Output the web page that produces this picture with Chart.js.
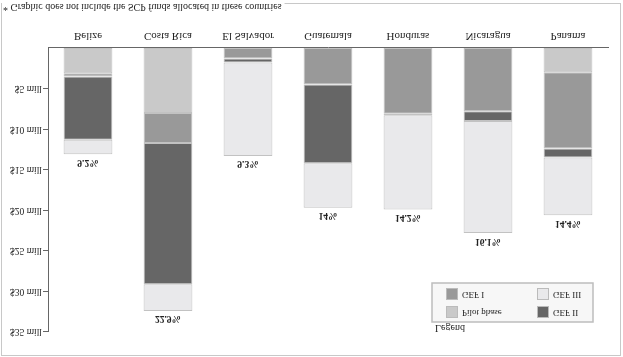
<!DOCTYPE html>
<html>
<head>
<meta charset="utf-8">
<script src="https://cdn.jsdelivr.net/npm/chart.js@4"></script>
<style>
  html, body { margin: 0; padding: 0; background: #fff; }
  #wrap { width: 623px; height: 357px; transform: scaleY(-1); transform-origin: 50% 50%; }
  canvas { display: block; }
</style>
</head>
<body>
<div id="wrap"><canvas id="c" width="623" height="357"></canvas></div>
<script>
// ---- data (US$ millions) ----
const categories = ['Belize', 'Costa Rica', 'El Salvador', 'Guatemala', 'Honduras', 'Nicaragua', 'Panama'];
const pilotPhase = [3.1, 8.0, 0, 0, 0, 0, 3.0];
const gef1       = [0.4, 3.7, 1.3, 4.5, 8.1, 7.8, 9.4];
const gef2       = [7.8, 17.4, 0.5, 9.7, 0.2, 1.2, 1.1];
const gef3       = [1.8, 3.3, 11.5, 5.5, 11.6, 13.8, 7.1];
const sharePct   = [9.2, 22.9, 9.3, 14, 14.2, 16.1, 14.4];
const yTickValues = [5, 10, 15, 20, 25, 30, 35];
const footnote = '* Graphic does not include the SCP funds allocated in these countries';

const SERIF = '"Liberation Serif", "Times New Roman", serif';
const TEXT = '#222';

const seriesDefs = [
  { label: 'Pilot phase', data: pilotPhase, color: '#c9c9c9' },
  { label: 'GEF I',       data: gef1,       color: '#999999' },
  { label: 'GEF II',      data: gef2,       color: '#666666' },
  { label: 'GEF III',     data: gef3,       color: '#e9e9eb' }
];

const datasets = seriesDefs.map(s => ({
  label: s.label,
  data: s.data,
  backgroundColor: s.color,
  borderColor: '#c2c2c2',
  borderWidth: 1,
  borderSkipped: false,
  barPercentage: 0.61,
  categoryPercentage: 1.0
}));

const decorPlugin = {
  id: 'decor',
  beforeDraw(chart) {
    const ctx = chart.ctx;
    ctx.save();
    ctx.fillStyle = '#fff';
    ctx.fillRect(0, 0, chart.width, chart.height);
    ctx.strokeStyle = '#c8c8c8';
    ctx.lineWidth = 1;
    ctx.strokeRect(1.5, 1.5, 619, 352);
    ctx.restore();
  },
  afterDraw(chart) {
    const ctx = chart.ctx;
    const xs = chart.scales.x, ys = chart.scales.y;
    ctx.save();
    // percentage labels above each stack
    ctx.font = 'bold 9.5px ' + SERIF;
    ctx.fillStyle = TEXT;
    ctx.textAlign = 'center';
    ctx.textBaseline = 'middle';
    categories.forEach((c, i) => {
      let total = 0;
      seriesDefs.forEach(s => { total += s.data[i] || 0; });
      const x = xs.getPixelForValue(i);
      const y = ys.getPixelForValue(total) - 8;
      ctx.fillText(sharePct[i] + '%', x, y);
    });

    // legend
    const bx = 432, by = 35, bw = 161, bh = 39;
    ctx.fillStyle = '#f7f7f7';
    ctx.fillRect(bx, by, bw, bh);
    ctx.strokeStyle = '#bdbdbd';
    ctx.lineWidth = 1.5;
    ctx.strokeRect(bx, by, bw, bh);
    ctx.font = '10px ' + SERIF;
    ctx.fillStyle = TEXT;
    ctx.textAlign = 'left';
    ctx.textBaseline = 'middle';
    ctx.fillText('Legend', 435, 29);
    const slots = {
      'Pilot phase': [446, 45],
      'GEF II':      [537, 45],
      'GEF I':       [446, 63],
      'GEF III':     [537, 63]
    };
    ctx.font = '9px ' + SERIF;
    chart.data.datasets.forEach(ds => {
      const p = slots[ds.label];
      if (!p) return;
      ctx.fillStyle = ds.backgroundColor;
      ctx.fillRect(p[0], p[1] - 6, 12, 12);
      ctx.strokeStyle = '#bbbbbb';
      ctx.lineWidth = 1;
      ctx.strokeRect(p[0] + 0.5, p[1] - 5.5, 11, 11);
      ctx.fillStyle = TEXT;
      ctx.fillText(ds.label, p[0] + 16, p[1]);
    });

    // footnote
    ctx.font = '10px ' + SERIF;
    const w = ctx.measureText(footnote).width;
    ctx.fillStyle = '#fff';
    ctx.fillRect(2, 346, w + 4, 10);
    ctx.fillStyle = TEXT;
    ctx.textBaseline = 'middle';
    ctx.fillText(footnote, 3, 350.5);
    ctx.restore();
  }
};

new Chart(document.getElementById('c'), {
  type: 'bar',
  data: { labels: categories, datasets },
  options: {
    responsive: false,
    animation: false,
    events: [],
    layout: { padding: { left: 0, right: 15, top: 25, bottom: 18 } },
    plugins: { legend: { display: false }, tooltip: { enabled: false } },
    scales: {
      x: {
        stacked: true,
        grid: { display: false, drawTicks: false },
        border: { display: true, color: '#666', width: 1 },
        ticks: { color: TEXT, font: { family: SERIF, size: 11 }, padding: 6, maxRotation: 0 },
        afterFit(s) { s.height = 30; }
      },
      y: {
        stacked: true,
        min: 0,
        max: 35,
        afterBuildTicks(s) { s.ticks = yTickValues.map(v => ({ value: v })); },
        grid: { display: true, drawOnChartArea: false, drawTicks: true, tickLength: 5, color: '#666' },
        border: { display: true, color: '#666', width: 1 },
        ticks: {
          color: TEXT,
          font: { family: SERIF, size: 9.5 },
          padding: 1,
          callback: v => '$' + v + ' mill'
        },
        afterFit(s) { s.width = 48; }
      }
    }
  },
  plugins: [decorPlugin]
});
</script>
</body>
</html>
